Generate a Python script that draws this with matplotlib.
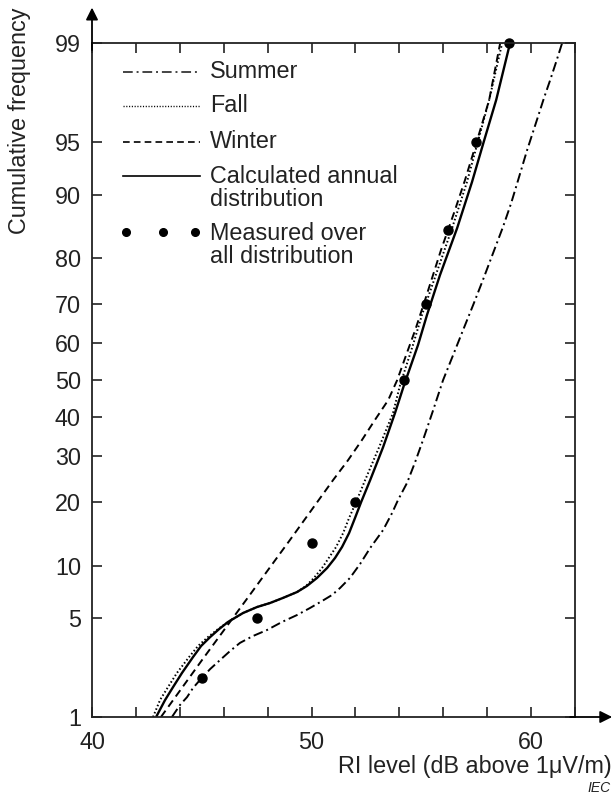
import numpy as np
import matplotlib
matplotlib.use("Agg")
import matplotlib.pyplot as plt
from matplotlib.ticker import FixedLocator, NullFormatter
from statistics import NormalDist

plt.rcParams['font.family'] = ['Liberation Sans', 'DejaVu Sans']

# ---------------- data ----------------
y_ticks = [1, 5, 10, 20, 30, 40, 50, 60, 70, 80, 90, 95, 99]
x_major = [40, 50, 60]
x_minor = [42, 44, 46, 48, 52, 54, 56, 58, 62]

summer_x = [43.64, 44.01, 44.33, 44.60, 44.92, 45.38, 45.83, 46.29, 46.74, 47.33,
            47.97, 48.66, 49.34, 49.93, 50.48, 50.93, 51.30, 51.75, 52.21, 52.67,
            53.26, 53.67, 53.94, 54.35, 54.72, 55.08, 55.54, 55.99, 56.45, 56.90,
            57.36, 57.81, 58.27, 58.72, 59.09, 59.41, 59.82, 60.27, 60.59, 60.87,
            61.14, 61.41]
summer_p = [1.0, 1.245, 1.43, 1.675, 1.92, 2.30, 2.66, 3.07, 3.48, 3.86,
            4.22, 4.75, 5.24, 5.78, 6.36, 6.89, 7.56, 8.60, 10.21, 12.32,
            15.03, 17.95, 20.4, 23.9, 28.6, 34.0, 41.8, 50.0, 56.9, 63.5,
            69.8, 75.6, 81.0, 85.5, 88.9, 91.65, 94.4, 96.4, 97.44, 98.09,
            98.6, 99.0]

fall_x = [42.78, 43.10, 43.46, 43.87, 44.42, 44.83, 45.28, 45.74, 46.20, 46.88,
          47.52, 48.11, 48.70, 49.34, 49.75, 50.11, 50.48, 51.12, 51.44, 51.71,
          52.03, 52.44, 53.08, 53.71, 54.03, 54.62, 55.03, 56.40, 57.08, 57.59,
          58.09, 58.68]
fall_p = [1.0, 1.36, 1.70, 2.16, 2.79, 3.32, 3.80, 4.28, 4.75, 5.39,
          5.86, 6.19, 6.63, 7.17, 7.76, 8.60, 9.73, 12.47, 14.55, 17.06,
          20.0, 24.5, 32.2, 41.0, 48.6, 59.6, 67.4, 85.3, 91.45, 95.1,
          97.35, 99.0]

winter_x = [43.14, 45.01, 47.02, 49.02, 50.98, 51.66, 52.30, 52.89, 53.49, 53.90,
            54.31, 54.72, 55.17, 55.90, 56.49, 56.99, 57.54, 58.09, 58.59]
winter_p = [1.0, 2.66, 6.45, 13.5, 24.5, 29.0, 34.0, 39.2, 44.5, 50.0,
            56.9, 63.5, 71.0, 81.6, 87.6, 91.65, 95.1, 97.35, 99.0]

annual_x = [42.92, 43.33, 43.69, 44.10, 44.60, 44.97, 45.38, 45.79, 46.20, 46.88,
            47.52, 48.11, 48.70, 49.34, 49.79, 50.25, 50.71, 51.07, 51.39, 51.71,
            51.98, 52.26, 52.67, 52.98, 53.26, 53.53, 53.80, 54.21, 54.85, 55.26,
            55.85, 56.63, 57.31, 57.86, 58.41, 59.04]
annual_p = [1.0, 1.36, 1.70, 2.16, 2.79, 3.32, 3.80, 4.28, 4.75, 5.39,
            5.86, 6.19, 6.63, 7.17, 7.76, 8.60, 9.73, 10.97, 12.47, 14.55,
            17.06, 20.0, 24.5, 28.4, 32.2, 36.5, 41.0, 48.6, 59.6, 67.4,
            76.6, 85.3, 91.45, 95.1, 97.35, 99.0]

measured_x = [45.0, 47.5, 50.0, 52.0, 54.2, 55.2, 56.2, 57.5, 59.0]
measured_p = [2.0, 5.0, 13.0, 20.0, 50.0, 70.0, 85.0, 95.0, 99.0]

legend_labels = ["Summer", "Fall", "Winter", "Calculated annual\ndistribution",
                 "Measured over\nall distribution"]

# ---------------- probability scale ----------------
_nd = NormalDist()

def _fwd_scalar(v):
    if not np.isfinite(v):
        return np.nan
    v = min(max(v, 1e-9), 100 - 1e-9)
    return _nd.inv_cdf(v / 100.0)

def _inv_scalar(z):
    if not np.isfinite(z):
        return np.nan
    return _nd.cdf(z) * 100.0

fwd = np.vectorize(_fwd_scalar, otypes=[float])
inv = np.vectorize(_inv_scalar, otypes=[float])

# ---------------- figure ----------------
W, H = 613, 796
fig = plt.figure(figsize=(W / 100, H / 100), dpi=100)
L, R, T, B = 92, 575, 43.3, 717
ax = fig.add_axes([L / W, 1 - B / H, (R - L) / W, (B - T) / H])
ax.set_yscale('function', functions=(fwd, inv))
ax.set_xlim(40, 62)
ax.set_ylim(1, 99)

lw = 1.4
ax.plot(summer_x, summer_p, color='black', lw=lw, dashes=(5, 2, 1, 2))
ax.plot(fall_x, fall_p, color='black', lw=lw, dashes=(0.8, 1.2))
ax.plot(winter_x, winter_p, color='black', lw=lw, dashes=(4, 2.5))
ax.plot(annual_x, annual_p, color='black', lw=1.7, solid_capstyle='butt',
        solid_joinstyle='round')
ax.plot(measured_x, measured_p, 'o', color='black', ms=6.5, clip_on=False)

# ticks
ax.yaxis.set_major_locator(FixedLocator(y_ticks))
ax.yaxis.set_minor_locator(FixedLocator([]))
ax.set_yticklabels([str(v) for v in y_ticks])
ax.xaxis.set_major_locator(FixedLocator(x_major))
ax.xaxis.set_minor_locator(FixedLocator(x_minor))
ax.xaxis.set_minor_formatter(NullFormatter())
ax.set_xticklabels([str(v) for v in x_major])
fs = 16.8
tc = '#222222'
ax.tick_params(which='both', direction='in', length=7, width=1.2, color='#222222',
               top=True, right=True, labelsize=fs, labelcolor=tc)
ax.tick_params(axis='y', pad=8)
ax.tick_params(axis='x', pad=10)
for s in ax.spines.values():
    s.set_linewidth(1.3)
    s.set_color('#222222')

# axis arrows
ax.annotate('', xy=(0, 1.053), xytext=(0, 0.99), xycoords='axes fraction',
            arrowprops=dict(arrowstyle='-|>', lw=1.3, color='black', mutation_scale=18,
                            shrinkA=0, shrinkB=0))
ax.annotate('', xy=(1.077, 0), xytext=(0.99, 0), xycoords='axes fraction',
            arrowprops=dict(arrowstyle='-|>', lw=1.3, color='black', mutation_scale=18,
                            shrinkA=0, shrinkB=0))

# legend (manual)
def ay(py):
    return (B - py) / (B - T)

def axx(px):
    return (px - L) / (R - L)

lx0, lx1, tx = axx(123), axx(200), axx(210)
tr = ax.transAxes
ax.plot([lx0, lx1], [ay(72)] * 2, transform=tr, color='#444444', lw=lw, dashes=(5, 2, 1, 2))
ax.plot([lx0, lx1], [ay(106)] * 2, transform=tr, color='black', lw=1.0, dashes=(0.8, 1.2))
ax.plot([lx0, lx1], [ay(142)] * 2, transform=tr, color='black', lw=1.2, dashes=(4, 2.5))
ax.plot([lx0, lx1], [ay(176)] * 2, transform=tr, color='black', lw=1.2)
ax.plot([axx(126), axx(163), axx(195)], [ay(232)] * 3, 'o', transform=tr, color='black', ms=5.5)
ax.text(tx, ay(72), legend_labels[0], transform=tr, fontsize=fs, va='center', color=tc)
ax.text(tx, ay(106), legend_labels[1], transform=tr, fontsize=fs, va='center', color=tc)
ax.text(tx, ay(142), legend_labels[2], transform=tr, fontsize=fs, va='center', color=tc)
ax.text(tx, ay(188), legend_labels[3], transform=tr, fontsize=fs, va='center', color=tc,
        linespacing=1.0)
ax.text(tx, ay(245), legend_labels[4], transform=tr, fontsize=fs, va='center', color=tc,
        linespacing=1.0)

# labels
fig.text(20 / W, 1 - 121 / H, "Cumulative frequency", rotation=90, ha='center', va='center',
         fontsize=fs, color=tc)
fig.text(612 / W, 1 - 766 / H, "RI level (dB above 1\u03bcV/m)", ha='right', va='center',
         fontsize=fs, color=tc)
fig.text(611 / W, 1 - 788 / H, "IEC", ha='right', va='center', fontsize=10, style='italic',
         color=tc)

fig.savefig("out.png", dpi=100)
